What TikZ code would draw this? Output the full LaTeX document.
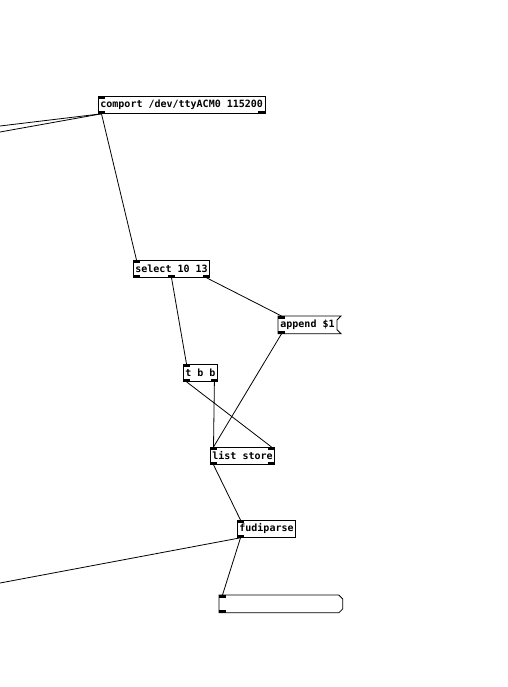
\documentclass[tikz,border=0pt]{standalone}
\usepackage{fontspec}
\setmonofont{DejaVu Sans Mono}
\usetikzlibrary{calc}

\tikzset{
  pdbox/.style={draw, line width=0.8pt, anchor=north west, minimum height=17pt,
    inner xsep=2pt, inner ysep=0pt, font=\ttfamily\bfseries\fontsize{10}{12}\selectfont},
  pdtext/.style={pdbox, draw=none},
  wire/.style={line width=0.8pt},
}
% iolets: left/right, top (in) or bottom (out)
\newcommand{\pdinl}[1]{\fill (#1) rectangle ++(7,3);}
\newcommand{\pdinr}[1]{\fill (#1) rectangle ++(-7,3);}
\newcommand{\pdoutl}[1]{\fill (#1) rectangle ++(7,-3);}
\newcommand{\pdoutr}[1]{\fill (#1) rectangle ++(-7,-3);}

\begin{document}
\begin{tikzpicture}[x=1pt, y=-1pt]
  \useasboundingbox (0,0) rectangle (507,687);

  % --- objects ---
  \node[pdbox] (comport) at (98,96) {comport /dev/ttyACM0 115200};
  \node[pdbox] (sel) at (133,260) {select 10 13};
  \node[pdtext] (append) at (278,316) {append \$1};
  \node[pdbox] (tbb) at (183,364) {t b b};
  \node[pdbox] (store) at (210,447) {list store};
  \node[pdbox] (fudi) at (237,520) {fudiparse};
  \node[pdtext, minimum width=123pt] (listbox) at (219,595) {};

  % message box and list box frames
  \draw[line width=0.8pt] (append.north west) -- ($(append.north east)+(4,0)$)
    -- ($(append.north east)+(0,4)$) -- ($(append.south east)+(0,-4)$)
    -- ($(append.south east)+(4,0)$) -- (append.south west) -- cycle;
  \draw[line width=0.8pt] (listbox.north west) -- ($(listbox.north east)+(-4,0)$)
    -- ($(listbox.north east)+(0,4)$) -- ($(listbox.south east)+(0,-4)$)
    -- ($(listbox.south east)+(-4,0)$) -- (listbox.south west) -- cycle;

  % --- loose ends off the canvas ---
  \coordinate (out-a) at (0,126);
  \coordinate (out-b) at (0,132);
  \coordinate (out-c) at (0,583);

  % --- connections ---
  \draw[wire] ($(comport.south west)+(3.5,0)$) -- (out-a);
  \draw[wire] ($(comport.south west)+(3.5,0)$) -- (out-b);
  \draw[wire] ($(comport.south west)+(3.5,0)$) -- ($(sel.north west)+(3.5,0)$);
  \draw[wire] (sel.south) -- ($(tbb.north west)+(3.5,0)$);
  \draw[wire] ($(sel.south east)+(-3.5,0)$) -- ($(append.north west)+(3.5,0)$);
  \draw[wire] ($(append.south west)+(3.5,0)$) -- ($(store.north west)+(3.5,0)$);
  \draw[wire] ($(tbb.south west)+(3.5,0)$) -- ($(store.north east)+(-3.5,0)$);
  \draw[wire] ($(tbb.south east)+(-3.5,0)$) -- ($(store.north west)+(3.5,0)$);
  \draw[wire] ($(store.south west)+(3.5,0)$) -- ($(fudi.north west)+(3.5,0)$);
  \draw[wire] ($(fudi.south west)+(3.5,0)$) -- (out-c);
  \draw[wire] ($(fudi.south west)+(3.5,0)$) -- ($(listbox.north west)+(3.5,0)$);

  % --- inlets and outlets ---
  \pdinl{comport.north west} \pdoutl{comport.south west} \pdoutr{comport.south east}
  \pdinl{sel.north west} \pdoutl{sel.south west} \pdoutr{sel.south east}
  \pdoutl{$(sel.south)+(-3.5,0)$}
  \pdinl{append.north west} \pdoutl{append.south west}
  \pdinl{tbb.north west} \pdoutl{tbb.south west} \pdoutr{tbb.south east}
  \pdinl{store.north west} \pdinr{store.north east}
  \pdoutl{store.south west} \pdoutr{store.south east}
  \pdinl{fudi.north west} \pdoutl{fudi.south west}
  \pdinl{listbox.north west} \pdoutl{listbox.south west}
\end{tikzpicture}
\end{document}
